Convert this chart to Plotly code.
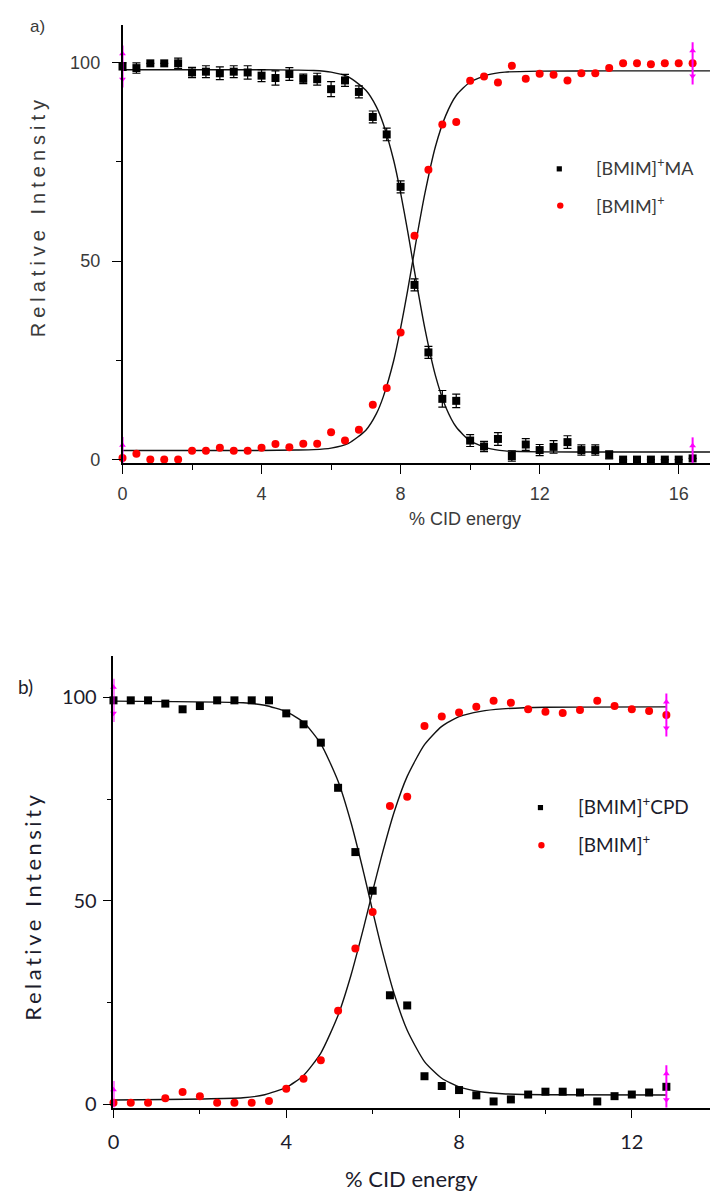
import plotly.graph_objects as go

# ---------------- panel a) : [BMIM]+MA dissociation ----------------
cid_a = [0.0, 0.4, 0.8, 1.2, 1.6, 2.0, 2.4, 2.8, 3.2, 3.6, 4.0, 4.4, 4.8, 5.2,
         5.6, 6.0, 6.4, 6.8, 7.2, 7.6, 8.0, 8.4, 8.8, 9.2, 9.6, 10.0, 10.4,
         10.8, 11.2, 11.6, 12.0, 12.4, 12.8, 13.2, 13.6, 14.0, 14.4, 14.8,
         15.2, 15.6, 16.0, 16.4]
ma_a = [99.0, 98.6, 99.8, 99.8, 99.8, 97.5, 97.7, 97.3, 97.7, 97.5, 96.7, 96.1,
        97.1, 95.9, 95.8, 93.3, 95.5, 92.6, 86.3, 81.9, 68.7, 44.0, 27.0, 15.3,
        14.8, 4.8, 3.3, 5.2, 0.9, 3.8, 2.4, 3.2, 4.4, 2.4, 2.4, 1.2, 0.0, 0.0,
        0.0, 0.0, 0.0, 0.3]
ma_err = [1.0, 1.3, 0.0, 0.0, 1.3, 1.3, 1.5, 1.6, 1.5, 1.7, 1.5, 1.8, 1.6, 1.2,
          1.5, 1.9, 1.5, 1.5, 1.5, 1.6, 1.5, 1.5, 1.5, 2.1, 1.7, 1.5, 1.3, 1.6,
          1.3, 1.5, 1.4, 1.6, 1.6, 1.3, 1.3, 1.0, 0.0, 0.0, 0.0, 0.0, 0.0, 0.0]
bmim_a = [0.4, 1.5, 0.0, 0.0, 0.0, 2.2, 2.2, 3.0, 2.2, 2.2, 3.0, 3.9, 3.1, 4.0,
          4.0, 6.9, 4.8, 7.5, 13.8, 18.0, 32.0, 56.4, 73.0, 84.4, 85.0, 95.4,
          96.5, 95.0, 99.2, 95.9, 97.2, 96.9, 95.5, 97.3, 97.3, 98.6, 99.8, 99.8,
          99.6, 99.8, 99.8, 99.8]

# Boltzmann fit lines of panel a)
fit_x_a = [0.0, 4.0, 5.0, 5.5, 6.0, 6.5, 7.0, 7.3, 7.5, 7.8, 8.0, 8.2, 8.35, 8.5,
           8.7, 9.0, 9.3, 9.6, 10.0, 10.5, 11.0, 12.0, 14.0, 16.9]
fit_ma_a = [98.2, 98.2, 98.1, 98.0, 97.6, 96.4, 93.0, 88.9, 84.6, 75.4, 67.2, 57.7,
            50.0, 42.4, 32.9, 21.2, 13.2, 8.2, 4.7, 2.9, 2.2, 1.95, 1.9, 1.9]
fit_bmim_a = [2.3, 2.3, 2.4, 2.5, 2.9, 4.1, 7.4, 11.5, 15.8, 24.9, 33.1, 42.5,
              50.1, 57.7, 67.1, 78.8, 86.7, 91.7, 95.1, 96.9, 97.6, 97.85, 97.9, 97.9]

# ---------------- panel b) : [BMIM]+CPD dissociation ----------------
cid_b = [0.0, 0.4, 0.8, 1.2, 1.6, 2.0, 2.4, 2.8, 3.2, 3.6, 4.0, 4.4, 4.8, 5.2,
         5.6, 6.0, 6.4, 6.8, 7.2, 7.6, 8.0, 8.4, 8.8, 9.2, 9.6, 10.0, 10.4,
         10.8, 11.2, 11.6, 12.0, 12.4, 12.8]
cpd_b = [99.3, 99.3, 99.3, 98.5, 97.1, 97.9, 99.3, 99.3, 99.3, 99.3, 96.1, 93.4,
         88.9, 77.8, 62.0, 52.5, 26.8, 24.3, 6.9, 4.5, 3.5, 2.2, 0.7, 1.2, 2.4,
         3.1, 3.1, 2.9, 0.7, 2.0, 2.4, 2.9, 4.3]
bmim_b = [0.4, 0.4, 0.4, 1.5, 3.0, 2.0, 0.4, 0.4, 0.4, 0.8, 3.8, 6.3, 10.8, 23.0,
          38.3, 47.3, 73.3, 75.6, 93.0, 95.3, 96.3, 97.7, 99.2, 98.7, 97.1, 96.5,
          96.2, 96.9, 99.2, 97.9, 97.1, 96.7, 95.7]

fit_x_b = [0.0, 3.0, 3.5, 4.0, 4.4, 4.8, 5.2, 5.5, 5.8, 6.0, 6.2, 6.5, 6.8, 7.2,
           7.6, 8.0, 8.5, 9.0, 10.0, 12.8]
fit_cpd_b = [99.1, 98.7, 98.1, 96.5, 93.9, 88.6, 79.4, 69.2, 56.6, 47.5, 38.7,
             27.1, 18.2, 10.5, 6.4, 4.3, 3.1, 2.6, 2.35, 2.3]
fit_bmim_b = [1.07, 1.6, 2.36, 4.15, 7.1, 12.6, 21.9, 31.8, 43.8, 52.4, 60.7,
              71.9, 80.6, 88.4, 92.9, 95.3, 96.6, 97.2, 97.6, 97.7]

W, H = 710, 1198
ARIAL = "Liberation Sans, Arial, sans-serif"
CALIBRI = "Lato, Carlito, Calibri, sans-serif"
TOP_TXT = "#3a3a3a"
BOT_TXT = "#1c1c2c"
MAGENTA = "#ff00ff"

fig = go.Figure()


def px_x(p):
    return p / W


def px_y(p):
    return 1 - p / H


def add_panel(xa, ya, x, black, red, err, fx, fblack, fred):
    # fitted sigmoids
    for fy in (fblack, fred):
        fig.add_trace(go.Scatter(x=fx, y=fy, mode="lines", xaxis=xa, yaxis=ya,
                                 line=dict(color="#111111", width=1.4, shape="spline",
                                           smoothing=0.6),
                                 showlegend=False, hoverinfo="skip"))
    fig.add_trace(go.Scatter(
        x=x, y=black, mode="markers", xaxis=xa, yaxis=ya, showlegend=False,
        marker=dict(symbol="square", size=8, color="black"),
        error_y=(dict(type="data", array=err, color="black", thickness=1.2, width=4)
                 if err is not None else None),
        cliponaxis=False))
    fig.add_trace(go.Scatter(
        x=x, y=red, mode="markers", xaxis=xa, yaxis=ya, showlegend=False,
        marker=dict(symbol="circle", size=8, color="#ff0000"), cliponaxis=False))
    # data-range selectors at both ends of the data
    ends = [(x[0], black[0]), (x[0], red[0]), (x[-1], black[-1]), (x[-1], red[-1])]
    for ex, ey in ends:
        fig.add_trace(go.Scatter(
            x=[ex, ex], y=[ey - 5.3, ey + 5.3], mode="lines", xaxis=xa, yaxis=ya,
            line=dict(color=MAGENTA, width=2), showlegend=False, hoverinfo="skip",
            cliponaxis=False))
        fig.add_trace(go.Scatter(
            x=[ex, ex], y=[ey + 3.2, ey - 3.2], mode="markers", xaxis=xa, yaxis=ya,
            marker=dict(symbol=["triangle-up", "triangle-down"], size=6, color=MAGENTA),
            showlegend=False, hoverinfo="skip", cliponaxis=False))


add_panel("x", "y", cid_a, ma_a, bmim_a, ma_err, fit_x_a, fit_ma_a, fit_bmim_a)
add_panel("x2", "y2", cid_b, cpd_b, bmim_b, None, fit_x_b, fit_cpd_b, fit_bmim_b)

axis_common = dict(showgrid=False, zeroline=False, showline=True, linecolor="black",
                   linewidth=1.5, ticks="outside", ticklen=9, tickwidth=1.3,
                   tickcolor="black", mirror=False)

fig.update_layout(
    width=W, height=H, margin=dict(l=0, r=0, t=0, b=0),
    paper_bgcolor="white", plot_bgcolor="white", showlegend=False,
    xaxis=dict(axis_common, domain=[117.5 / W, 1], range=[0, 16.9], anchor="y",
               tickvals=[0, 4, 8, 12, 16], ticklabelstandoff=5,
               tickfont=dict(family=ARIAL, size=18, color=TOP_TXT),
               minor=dict(dtick=2, tick0=0, ticks="outside", ticklen=5,
                          tickcolor="black", tickwidth=1.2)),
    yaxis=dict(axis_common, domain=[px_y(466), px_y(25)], range=[-0.83, 109.5],
               anchor="x", tickvals=[0, 50, 100], ticklabelstandoff=8,
               tickfont=dict(family=ARIAL, size=18, color=TOP_TXT),
               minor=dict(dtick=25, tick0=0, ticks="outside", ticklen=5,
                          tickcolor="black", tickwidth=1.2)),
    xaxis2=dict(axis_common, domain=[108.4 / W, 1], range=[0, 13.81], anchor="y2",
                tickvals=[0, 4, 8, 12], ticklabelstandoff=7,
                tickfont=dict(family=CALIBRI, size=20, color=BOT_TXT),
                minor=dict(dtick=2, tick0=0, ticks="outside", ticklen=5,
                           tickcolor="black", tickwidth=1.2)),
    yaxis2=dict(axis_common, domain=[px_y(1115), px_y(660)], range=[-0.8, 110.3],
                anchor="x2", tickvals=[0, 50, 100], ticklabelstandoff=2,
                tickfont=dict(family=CALIBRI, size=20, color=BOT_TXT),
                minor=dict(dtick=25, tick0=0, ticks="outside", ticklen=5,
                           tickcolor="black", tickwidth=1.2)),
)

annotations = []


def label(text, x, y, font, size, color, angle=0, xanchor="center", yanchor="middle"):
    annotations.append(dict(text=text, x=px_x(x), y=px_y(y), xref="paper", yref="paper",
                            showarrow=False, textangle=angle, xanchor=xanchor,
                            yanchor=yanchor,
                            font=dict(family=font, size=size, color=color)))


# panel tags
label("a)", 32, 27, ARIAL, 17, TOP_TXT)
label("b)", 20, 691, CALIBRI, 19, BOT_TXT)

# axis titles
label('<span style="letter-spacing:5px">Relative Intensity</span>', 32, 218, ARIAL,
      20, TOP_TXT, angle=-90)
label("% CID energy", 463, 522, ARIAL, 18, TOP_TXT)
label('<span style="letter-spacing:3.5px">Relative Intensity</span>', 27, 912, CALIBRI,
      22, BOT_TXT, angle=-90)
label("% CID energy", 409, 1186, CALIBRI, 22, BOT_TXT)

# legend entries
label("[BMIM]<sup>+</sup>MA", 593, 168, CALIBRI, 18, TOP_TXT, xanchor="left")
label("[BMIM]<sup>+</sup>", 593, 206, CALIBRI, 18, TOP_TXT, xanchor="left")
label("[BMIM]<sup>+</sup>CPD", 575, 811, CALIBRI, 19, BOT_TXT, xanchor="left")
label("[BMIM]<sup>+</sup>", 575, 849, CALIBRI, 19, BOT_TXT, xanchor="left")

fig.update_layout(annotations=annotations)

# legend keys
shapes = []
for cx, cy, kind, color, r in [(558, 170, "rect", "black", 2.6),
                               (559, 207, "circle", "#ff0000", 3.2),
                               (539, 813, "rect", "black", 2.6),
                               (540, 851, "circle", "#ff0000", 3.2)]:
    shapes.append(dict(type=kind, xref="paper", yref="paper",
                       xsizemode="pixel", ysizemode="pixel",
                       xanchor=px_x(cx), yanchor=px_y(cy),
                       x0=-r, x1=r, y0=-r, y1=r,
                       fillcolor=color, line=dict(width=0)))
fig.update_layout(shapes=shapes)

fig.write_html("out.html")
